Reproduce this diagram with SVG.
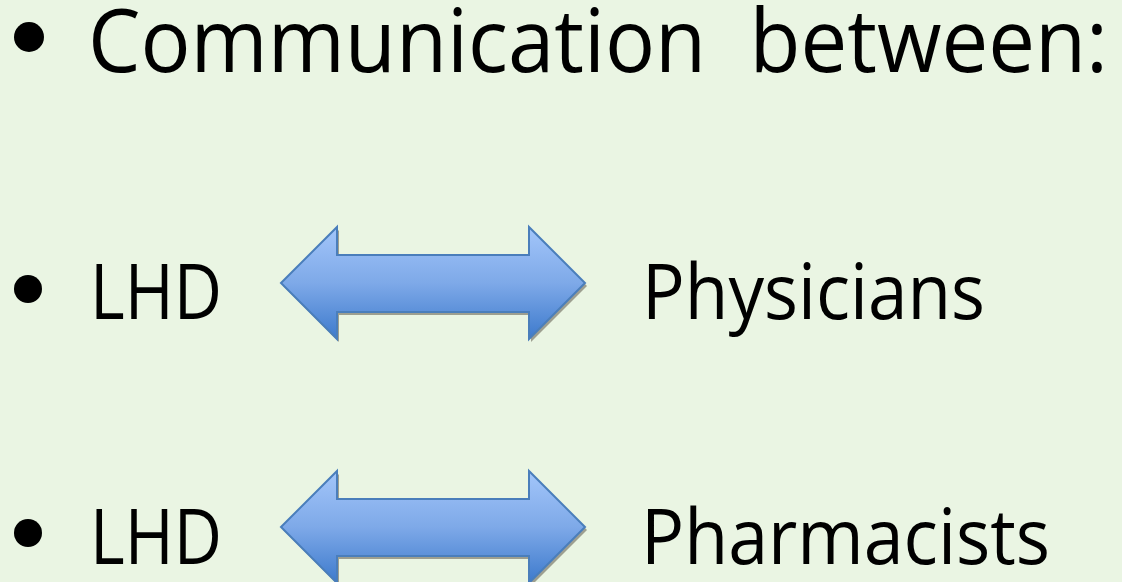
<svg xmlns="http://www.w3.org/2000/svg" width="1122" height="582" viewBox="0 0 1122 582">
<defs>
<linearGradient id="g" x1="0" y1="0" x2="0" y2="1">
<stop offset="0" stop-color="#a3c6fa"/>
<stop offset="0.5" stop-color="#7ea9e8"/>
<stop offset="1" stop-color="#3d7acc"/>
</linearGradient>
<path id="arrow" d="M281,283 L337,227 L337,255 L529,255 L529,227 L585,283 L529,339 L529,312 L337,312 L337,339 Z"/>
</defs>
<style>
text{font-family:"Open Sans","Liberation Sans",sans-serif;fill:#000}
.big{font-size:87px}
.mid{font-size:76px}
.shadow{fill:#8a8a7a;opacity:0.8}
.arr{fill:url(#g);stroke:#4a7ebb;stroke-width:2;stroke-linejoin:miter}
</style>
<rect width="1122" height="582" fill="#eaf5e3"/>
<g id="title">
<circle cx="29" cy="37" r="15" fill="#000"/>
<text class="big" x="88" y="72" textLength="1020" lengthAdjust="spacingAndGlyphs" xml:space="preserve">Communication  between:</text>
</g>
<g id="row1-lhd">
<circle cx="28" cy="289" r="14" fill="#000"/>
<text class="mid" x="90" y="319" textLength="132" lengthAdjust="spacingAndGlyphs">LHD</text>
</g>
<g id="row1-physicians">
<text class="mid" x="642" y="319" textLength="343" lengthAdjust="spacingAndGlyphs">Physicians</text>
</g>
<g id="row2-lhd">
<circle cx="28" cy="533" r="14" fill="#000"/>
<text class="mid" x="90" y="564" textLength="132" lengthAdjust="spacingAndGlyphs">LHD</text>
</g>
<g id="row2-pharmacists">
<text class="mid" x="641" y="564" textLength="409" lengthAdjust="spacingAndGlyphs">Pharmacists</text>
</g>
<g id="connectors">
<g id="arrow1">
<use href="#arrow" class="shadow" transform="translate(2,3)"/>
<use href="#arrow" class="arr"/>
</g>
<g id="arrow2" transform="translate(0,244)">
<use href="#arrow" class="shadow" transform="translate(2,3)"/>
<use href="#arrow" class="arr"/>
</g>
</g>
</svg>
